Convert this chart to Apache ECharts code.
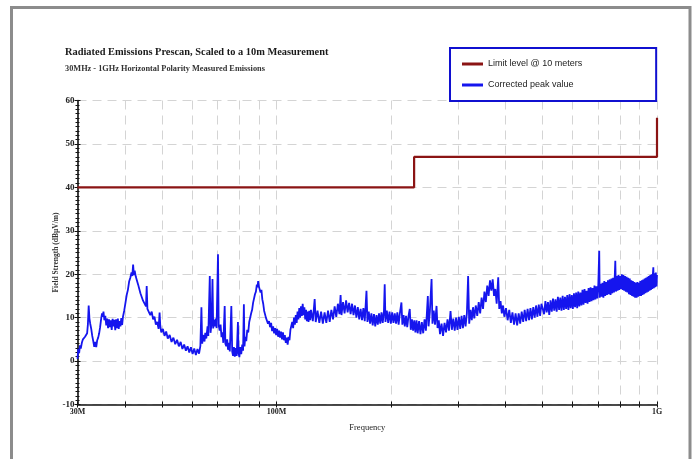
<!DOCTYPE html>
<html>
<head>
<meta charset="utf-8">
<script src="https://cdn.jsdelivr.net/npm/echarts@6/dist/echarts.min.js"></script>
<style>
html,body{margin:0;padding:0;background:#fff;}
#chart{width:696px;height:459px;}
</style>
</head>
<body>
<div id="chart"></div>
<script>
// ---- data (frequency in MHz, level in dBµV/m) ----
const chartTitle = 'Radiated Emissions Prescan, Scaled to a 10m Measurement';
const chartSubtitle = '30MHz - 1GHz Horizontal Polarity Measured Emissions';
const xAxisName = 'Frequency';
const yAxisName = 'Field Strength (dBµV/m)';
const seriesNames = ['Limit level @ 10 meters', 'Corrected peak value'];

const xTickValues = [30, 40, 50, 60, 70, 80, 90, 100, 200, 300, 400, 500, 600, 700, 800, 900, 1000];
const xLabelValues = [30, 100, 1000];
const xLabelText = { 30: '30M', 100: '100M', 1000: '1G' };

const limitLevel = [[30, 40], [230, 40], [230, 47], [1000, 47], [1000, 56]];

const peakTraceLow = [
  [30.0,0.5],[30.15,2.8],[30.3,1.8],[30.45,3.6],[30.6,2.9],[30.8,4.2],[31.0,5.0],[31.2,4.6],[31.4,5.6],[31.6,5.3],
  [31.8,6.4],[31.95,8.5],[32.1,12.8],[32.25,9.8],[32.4,8.6],[32.6,7.4],[32.8,5.8],[33.0,4.6],[33.2,3.3],[33.4,4.4],
  [33.6,3.2],[33.8,4.8],[34.0,5.4],[34.2,6.4],[34.4,7.8],[34.6,9.6],[34.8,11.0],[34.95,10.2],[35.1,11.4],[35.3,9.4],
  [35.5,10.4],[35.7,8.2],[35.9,9.8],[36.1,7.6],[36.3,9.6],[36.5,7.8],[36.7,9.4],[36.9,7.2],[37.1,9.7],[37.3,8.0],
  [37.5,9.5],[37.7,7.1],[37.9,9.6],[38.1,7.6],[38.3,9.8],[38.5,7.4],[38.7,9.2],[38.9,8.0],[39.1,9.9],[39.3,8.3],
  [39.5,10.2],[39.8,11.6],[40.1,13.4],[40.4,15.2],[40.7,16.4],[41.0,18.3],[41.3,19.2],[41.6,20.4],[41.8,19.6],[42.0,22.2],
  [42.2,19.8],[42.4,20.8],[42.7,19.4],[43.0,19.2],[43.3,17.6],[43.6,17.8],[43.9,15.6],[44.2,16.0],[44.6,13.9],[45.0,14.2],
  [45.4,12.6],[45.6,17.3],[45.8,12.0],[46.2,12.4],[46.6,10.6],[47.0,11.4],[47.4,9.6],[47.8,10.2],[48.2,8.4],[48.6,9.0],
  [49.0,7.4],[49.3,11.2],[49.5,8.2],[49.8,6.6],[50.3,7.4],[50.8,5.8],[51.3,6.8],[51.8,5.2],[52.4,6.0],[53.0,4.4],
  [53.6,5.4],[54.2,3.9],[54.8,4.9],[55.4,3.4],[56.0,4.4],[56.6,2.8],[57.2,3.8],[57.8,2.4],[58.4,3.4],[59.0,2.0],
  [59.6,3.2],[60.2,1.6],[60.8,2.9],[61.4,1.4],[62.0,2.8],[62.6,1.7],[63.1,3.5]
];

const peakTraceMid = [
  [63.5,12.4],[63.8,4.0],[64.2,6.0],[64.7,4.5],[65.0,6.5],[65.4,5.2],[65.9,8.0],[66.2,5.8],[66.8,19.6],[67.1,6.5],
  [67.5,8.5],[67.9,18.9],[68.2,7.5],[68.5,9.5],[68.8,8.0],[69.2,9.8],[69.6,7.6],[70.2,24.6],[70.5,8.2],[70.9,7.0],
  [71.3,8.4],[71.7,5.5],[72.1,6.6],[72.5,4.2],[73.1,12.7],[73.4,4.0],[73.8,3.4],[74.2,5.0],[74.6,2.6],[75.0,4.2],
  [75.4,2.2],[76.1,12.7],[76.5,2.2],[76.9,1.2],[77.3,3.2],[77.7,1.0],[78.1,3.0],[78.6,1.2],[79.2,9.0],[79.5,1.8],
  [79.9,0.9],[80.3,3.2],[80.8,1.6],[81.3,3.8],[81.7,2.4],[82.1,13.1],[82.4,3.4],[82.8,5.6],[83.3,4.6],[83.8,7.2],
  [84.3,6.6],[84.8,9.0],[85.3,8.6],[85.8,11.0],[86.3,11.8],[86.8,13.4],[87.3,13.8],[87.8,15.4],[88.3,16.0],[88.8,17.6],
  [89.2,17.0],[89.5,18.4],[89.9,17.2],[90.3,17.6],[90.8,15.8],[91.3,16.4],[91.8,14.2],[92.3,13.2],[92.8,11.6],[93.3,11.8],
  [93.8,10.0],[94.4,10.4],[95.0,8.6],[95.6,9.2],[96.2,7.8],[96.8,8.8],[97.4,6.9],[98.0,8.0],[98.6,6.4],[99.2,7.6],
  [99.8,6.0],[100.4,7.4],[101.0,5.6],[101.6,7.0],[102.2,5.4],[102.8,6.8],[103.4,5.0],[104.0,6.6],[104.6,4.8],[105.2,6.0],
  [105.8,4.2],[106.4,5.4],[107.0,3.8],[107.6,5.6],[108.2,4.8],[108.8,7.2],[109.4,6.8],[110.0,9.0],[110.6,7.6],[111.2,10.0],
  [111.8,8.4],[112.4,10.6],[113.0,8.8],[113.6,11.4],[114.2,9.6],[114.8,12.2],[115.4,10.0],[116.0,12.6],[116.6,10.4],[117.2,13.2],
  [117.8,10.6],[118.4,12.4],[119.0,9.6],[119.6,11.8],[120.2,9.2],[120.8,11.4],[121.4,9.0],[122.0,11.6],[122.6,9.4]
];

const peakTraceHigh1 = [
  [123.2,11.8],[124.6,9.2],[126.0,14.3],[126.8,9.0],[128.2,11.6],[129.6,8.8],[131.0,11.4],[132.4,8.6],[133.8,11.2],[135.2,8.8],
  [136.6,11.6],[138.0,9.0],[139.4,11.8],[140.8,9.6],[142.2,12.6],[143.6,10.2],[145.0,13.2],[146.4,10.8],[147.4,15.2],[148.2,10.6],
  [149.6,13.6],[151.0,11.0],[152.4,14.0],[153.8,11.2],[155.2,13.4],[156.6,10.8],[158.0,13.2],[159.4,10.6],[160.8,12.8],[162.2,10.0],
  [163.6,12.4],[165.0,9.6],[166.4,12.0],[167.8,9.4],[169.2,12.2],[170.6,9.2],[172.4,16.2],[173.4,9.0],[174.8,11.4],[176.2,8.6],
  [177.6,11.0],[179.0,8.2],[180.4,10.8],[181.8,8.0],[183.2,10.6],[184.6,8.4],[186.0,11.0],[187.4,8.6],[188.8,11.2],[190.2,8.8],
  [191.6,11.4],[192.5,17.7],[193.4,9.0],[195.0,11.6],[196.6,8.8],[198.2,11.4],[199.8,8.6],[201.4,11.2],[203.0,8.8],[204.6,11.0],
  [206.2,8.6],[207.8,11.2],[209.4,8.4],[211.0,11.0],[213.0,13.5],[214.2,8.4],[215.8,10.6],[217.4,8.0],[219.0,10.4],[220.6,7.8],
  [222.2,10.2],[224.0,12.0],[225.4,7.2],[227.0,9.6],[228.6,7.0],[230.2,9.4]
];

const peakTraceHigh2 = [
  [231.8,6.6],[233.4,9.4],[235.0,6.4],[237.0,9.2],[239.0,6.2],[241.0,9.0],[243.0,6.4],[245.0,9.6],[247.0,7.0],[249.9,15.0],
  [251.0,8.0],[253.0,11.4],[255.6,18.9],[257.0,8.6],[259.0,11.6],[261.0,8.4],[263.4,12.7],[265.0,7.6],[267.0,9.4],[269.0,6.2],
  [271.5,8.6],[274.0,5.8],[276.5,8.8],[279.0,6.6],[281.5,9.6],[284.0,7.0],[286.7,11.5],[289.0,7.2],[291.5,9.8],[294.0,7.0],
  [296.5,10.0],[299.0,7.2],[301.5,10.2],[304.0,7.4],[306.5,10.4],[309.0,7.6],[311.5,10.6],[314.0,8.0],[316.5,11.0],[318.9,19.6],
  [321.0,8.6],[323.5,11.8],[326.0,9.4],[328.5,12.4],[331.0,9.8],[334.0,12.8],[337.0,10.4],[340.0,13.6],[343.0,11.0],[346.0,14.6],
  [349.0,12.0],[352.0,16.0],[355.0,13.6],[358.0,17.4],[361.0,15.0],[364.0,18.6],[367.0,16.2],[370.0,18.8],[373.0,15.0],[376.0,16.6],
  [379.0,13.2],[382.6,19.3],[385.0,12.0],[388.0,13.8],[391.0,11.0],[394.0,12.8],[397.0,10.2],[401.0,12.2],[405.0,9.4],[409.0,11.8],
  [413.0,8.8],[417.0,11.2],[421.0,8.4],[425.0,11.0],[429.0,8.2],[433.0,11.0],[437.0,8.6],[441.0,11.4],[445.0,9.0],[449.0,11.8],
  [453.0,9.2],[457.0,12.0],[461.0,9.4],[465.0,12.2],[469.0,9.6],[473.0,12.4],[477.0,10.0],[481.0,12.8],[485.0,10.2],[489.0,13.0],
  [493.0,10.4],[497.0,13.2]
];

const peakTraceTop = [
  [501,13.4],[505,10.8],[509,13.8],[513,11.2],[517,13.6],[521,10.6],[525,14.0],[529,11.4],[533,14.4],[537,11.6],
  [541,14.2],[545,11.4],[549,14.8],[553,11.8],[557,14.6],[561,11.6],[565,15.0],[569,11.8],[573,14.8],[577,12.0],
  [581,15.2],[585,11.8],[589,15.4],[593,12.2],[597,15.2],[601,12.0],[605,15.6],[609,12.4],[613,15.8],[617,12.2],
  [621,16.0],[625,12.6],[629,15.8],[633,12.8],[637,16.4],[641,13.0],[645,16.6],[649,13.4],[653,16.2],[657,13.2],
  [661,16.8],[665,13.6],[669,17.0],[673,13.8],[677,16.8],[681,14.0],[685,17.4],[689,14.2],[693,17.2],[697,14.4],
  [701,17.6],[705,25.4],[707,14.6],[711,17.8],[715,14.8],[719,18.0],[723,14.6],[727,18.4],[731,15.0],[735,18.2],
  [739,15.2],[743,18.6],[747,15.4],[751,18.8],[755,15.2],[759,19.0],[763,15.6],[767,19.2],[771,15.8],[774,19.0],
  [777,23.1],[780,16.0],[784,19.6],[788,16.2],[792,19.8],[796,16.4],[800,19.6],[804,16.6],[808,20.0],[812,16.4],
  [816,19.8],[820,16.2],[824,19.6],[828,16.0],[832,19.4],[836,15.8],[840,19.2],[844,15.4],[848,19.0],[852,15.2],
  [856,18.6],[860,15.0],[864,18.4],[868,14.8],[872,18.2],[876,14.6],[880,18.0],[884,14.6],[888,18.2],[892,14.8],
  [896,18.0],[900,15.0],[904,18.4],[908,15.0],[912,18.6],[916,15.2],[920,18.8],[924,15.4],[928,19.0],[932,15.6],
  [936,19.2],[940,15.8],[944,19.4],[948,16.0],[952,19.6],[956,16.2],[960,19.8],[964,16.4],[968,20.0],[972,16.6],
  [975,19.8],[978,21.6],[981,16.8],[985,20.2],[989,17.0],[993,20.4],[997,17.2],[1000,19.8]
];

const peakTrace = [].concat(peakTraceLow, peakTraceMid, peakTraceHigh1, peakTraceHigh2, peakTraceTop);

// ---- chart ----
const serif = 'Liberation Serif';
const sans = 'Liberation Sans';
const gridBox = { left: 77.5, right: 39, top: 100.5, bottom: 54.5 };

const chart = echarts.init(document.getElementById('chart'), null, { renderer: 'canvas' });

const dashed = { show: true, lineStyle: { color: '#d4d4d4', width: 1, type: [9, 6] } };

chart.setOption({
  animation: false,
  backgroundColor: '#fff',
  title: {
    text: chartTitle,
    subtext: chartSubtitle,
    left: 60,
    top: 42,
    itemGap: 8,
    textStyle: { fontFamily: serif, fontWeight: 'bold', fontSize: 10.4, color: '#1a1a1a' },
    subtextStyle: { fontFamily: serif, fontWeight: 'bold', fontSize: 8.3, color: '#333' }
  },
  legend: {
    left: 450,
    top: 48,
    orient: 'vertical',
    data: seriesNames,
    icon: 'rect',
    itemWidth: 21,
    itemHeight: 3,
    itemGap: 9,
    padding: [10, 74, 10, 12],
    borderColor: '#1010d0',
    borderWidth: 2,
    backgroundColor: '#fff',
    textStyle: { fontFamily: sans, fontSize: 9, color: '#222', lineHeight: 12 }
  },
  grid: gridBox,
  xAxis: [
    {
      type: 'log', logBase: 10, min: 30, max: 1000,
      name: xAxisName, nameLocation: 'middle', nameGap: 19,
      nameTextStyle: { fontFamily: serif, fontSize: 8.5, color: '#222' },
      axisLine: { onZero: false, lineStyle: { color: '#111', width: 1.6 } },
      axisTick: { show: true, length: 3, customValues: xTickValues, lineStyle: { color: '#111', width: 1 } },
      axisLabel: {
        customValues: xLabelValues, fontFamily: serif, fontWeight: 'bold', fontSize: 8, color: '#222', margin: 3,
        formatter: v => xLabelText[Math.round(v)] || ''
      },
      splitLine: dashed
    },
    {
      type: 'log', logBase: 10, min: 30, max: 1000, position: 'bottom',
      axisLine: { show: false, onZero: false },
      axisTick: { show: true, inside: true, length: 3, customValues: xTickValues, lineStyle: { color: '#111', width: 1 } },
      axisLabel: { show: false },
      splitLine: { show: false }
    }
  ],
  yAxis: [
    {
      type: 'value', min: -10, max: 60, interval: 10,
      name: yAxisName, nameLocation: 'middle', nameGap: 17, nameMoveOverlap: false,
      nameTextStyle: { fontFamily: serif, fontWeight: 'bold', fontSize: 7.5, color: '#333' },
      axisLine: { show: true, onZero: false, lineStyle: { color: '#111', width: 1.6 } },
      axisTick: { show: true, length: 3, lineStyle: { color: '#111' } },
      minorTick: { show: true, splitNumber: 10, length: 2, lineStyle: { color: '#111' } },
      axisLabel: { fontFamily: serif, fontWeight: 'bold', fontSize: 9, color: '#222', margin: 3 },
      splitLine: dashed
    },
    {
      type: 'value', min: -10, max: 60, interval: 10, position: 'left',
      axisLine: { show: false, onZero: false },
      axisTick: { show: true, inside: true, length: 3, lineStyle: { color: '#111' } },
      minorTick: { show: true, splitNumber: 10, length: 2, lineStyle: { color: '#111' } },
      axisLabel: { show: false },
      splitLine: { show: false }
    }
  ],
  graphic: [
    {
      type: 'polyline', silent: true, z: 100,
      shape: { points: [[11.5, 470], [11.5, 7.5], [690, 7.5], [690, 470]] },
      style: { fill: null, stroke: '#8c8c8c', lineWidth: 3 }
    }
  ],
  series: [
    {
      name: seriesNames[0], type: 'line', data: limitLevel, showSymbol: false, symbol: 'none',
      lineStyle: { color: '#8b1414', width: 2.2 }, itemStyle: { color: '#8b1414' }, z: 4
    },
    {
      name: seriesNames[1], type: 'line', data: peakTrace, showSymbol: false, symbol: 'none', sampling: null,
      lineStyle: { color: '#1515ee', width: 1.8 }, itemStyle: { color: '#1515ee' }, z: 3
    }
  ]
});
</script>
</body>
</html>
